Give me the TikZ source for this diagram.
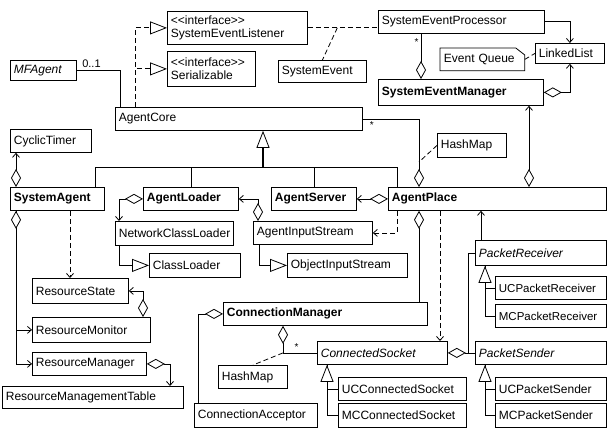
\documentclass[tikz,border=0pt]{standalone}
\usepackage{fontspec}
\setmainfont{Liberation Sans}
\usetikzlibrary{arrows.meta,calc}

\tikzset{
  cls/.style={draw, anchor=north west, inner xsep=3.5pt, inner ysep=0pt, align=left,
    font=\fontsize{12}{13.5}\selectfont},
  abs/.style={cls, font=\fontsize{12}{13.5}\selectfont\itshape},
  main/.style={cls, font=\fontsize{12}{13.5}\selectfont\bfseries},
  narrow/.style={cls, font=\fontsize{11.5}{13.5}\selectfont},
  note/.style={cls, draw=none},
  mult/.style={font=\fontsize{10}{10}\selectfont, inner sep=2pt},
  dep/.style={dash pattern=on 5pt off 3pt},
  agg/.tip={Diamond[fill=white,length=18pt,width=10pt,line width=0.8pt]},
  nv/.tip={Straight Barb[length=4pt,width=7pt]},
  inh/.tip={Triangle[fill=white,length=17pt,width=13pt,line width=0.8pt]},
}

\begin{document}
\begin{tikzpicture}[x=1pt, y=-1pt, line width=0.8pt]
    \useasboundingbox (0,0) rectangle (608,428);

    % Interfaces and system events
    \node[cls, text width=133pt, minimum height=33pt] (sel) at (167,11) {{<}{<}interface{>}{>}\\SystemEventListener};
    \node[cls, text width=81pt, minimum height=35pt] (ser) at (167,51) {{<}{<}interface{>}{>}\\Serializable};
    \node[abs, text width=59pt, minimum height=20pt] (mfagent) at (10,60) {MFAgent};
    \node[cls, text width=159pt, minimum height=23pt] (sep) at (378,10) {SystemEventProcessor};
    \node[cls, text width=81pt, minimum height=22pt] (sysevent) at (278,60) {SystemEvent};
    \node[cls, text width=62pt, minimum height=20pt] (linkedlist) at (535,43) {LinkedList};
    \node[note, text width=77pt, minimum height=22pt] (eventqueue) at (440,48) {Event Queue};
    \node[main, text width=158pt, minimum height=26pt] (sem) at (378,79) {SystemEventManager};

    % Agent core and its subclasses
    \node[cls, text width=240pt, minimum height=23pt] (agentcore) at (115,107) {AgentCore};
    \node[cls, text width=74pt, minimum height=23pt] (cyclictimer) at (10,129) {CyclicTimer};
    \node[cls, text width=62pt, minimum height=24pt] (hashmapap) at (437,133) {HashMap};
    \node[main, text width=87pt, minimum height=23pt] (systemagent) at (10,187) {SystemAgent};
    \node[main, text width=88pt, minimum height=23pt] (agentloader) at (143,187) {AgentLoader};
    \node[main, text width=78pt, minimum height=23pt] (agentserver) at (271,187) {AgentServer};
    \node[main, text width=211pt, minimum height=23pt] (agentplace) at (388,187) {AgentPlace};

    % Loaders and streams
    \node[cls, text width=111pt, minimum height=24pt] (networkclassloader) at (115,221) {NetworkClassLoader};
    \node[cls, text width=112pt, minimum height=23pt] (agentinputstream) at (253,221) {AgentInputStream};
    \node[cls, text width=84pt, minimum height=24pt] (classloader) at (149,253) {ClassLoader};
    \node[cls, text width=113pt, minimum height=24pt] (objectinputstream) at (287,253) {ObjectInputStream};

    % Resources
    \node[cls, text width=89pt, minimum height=25pt] (resourcestate) at (32,278) {ResourceState};
    \node[cls, text width=111pt, minimum height=25pt] (resourcemonitor) at (32,317) {ResourceMonitor};
    \node[cls, text width=107pt, minimum height=23pt] (resourcemanager) at (32,352) {ResourceManager};
    \node[cls, text width=174pt, minimum height=22pt] (rmtable) at (2,386) {ResourceManagementTable};

    % Connections and packets
    \node[abs, text width=124pt, minimum height=25pt] (packetreceiver) at (475,240) {PacketReceiver};
    \node[narrow, text width=104pt, minimum height=23pt] (ucpr) at (495,276) {UCPacketReceiver};
    \node[narrow, text width=104pt, minimum height=23pt] (mcpr) at (495,304) {MCPacketReceiver};
    \node[main, text width=197pt, minimum height=23pt] (connectionmanager) at (223,302) {ConnectionManager};
    \node[abs, text width=123pt, minimum height=23pt] (connectedsocket) at (317,341) {ConnectedSocket};
    \node[abs, text width=124pt, minimum height=23pt] (packetsender) at (475,341) {PacketSender};
    \node[cls, text width=62pt, minimum height=23pt] (hashmapcm) at (218,365) {HashMap};
    \node[cls, text width=121pt, minimum height=23pt] (uccs) at (338,377) {UCConnectedSocket};
    \node[cls, text width=104pt, minimum height=23pt] (ucps) at (495,377) {UCPacketSender};
    \node[cls, text width=116pt, minimum height=24pt] (connectionacceptor) at (194,403) {ConnectionAcceptor};
    \node[cls, text width=121pt, minimum height=24pt] (mccs) at (338,403) {MCConnectedSocket};
    \node[cls, text width=104pt, minimum height=24pt] (mcps) at (495,403) {MCPacketSender};

    % Note outline
    \draw (eventqueue.south west) -- (eventqueue.north west) -- ([xshift=-9pt]eventqueue.north east)
        -- ([yshift=-7pt]eventqueue.north east) -- (eventqueue.south east) -- cycle;
    \draw[dep] (eventqueue.east) -- (linkedlist.west);

    % Agent core links
    \draw (mfagent.east) -| ([xshift=5pt]agentcore.north west) node[mult, pos=0.17, above, font=\fontsize{11}{11}\selectfont] {0..1};
    \draw[dep, -inh] ([xshift=20pt]agentcore.north west) |- (sel.west);
    \draw[dep, -inh] ([xshift=20pt]agentcore.north west) |- (ser.west);

    % System events
    \draw[dep] (sel.east) -- (sel.east -| sep.west) coordinate[pos=0.42] (evt);
    \draw[dep] (evt) -- (sysevent.north);
    \draw[agg-] ([xshift=43pt]sem.north west) -- ([xshift=43pt]sep.south west) node[mult, pos=0.82, left] {*};
    \draw[-nv] (sep.east) -| (linkedlist.north);
    \draw[agg-nv] (sem.east) -| (linkedlist.south);

    % Inheritance tree under AgentCore
    \coordinate (bus) at ([xshift=148pt, yshift=-37pt]agentcore.south west);
    \draw[line width=1.6pt, -inh] (bus) -- ([xshift=148pt]agentcore.south west);
    \draw ([xshift=85pt]systemagent.north west) |- (bus) -| ([xshift=9pt]agentplace.north west);
    \coordinate (alup) at ([xshift=48pt]agentloader.north west);
    \draw (alup) -- (alup |- bus);
    \coordinate (asup) at ([xshift=43pt]agentserver.north west);
    \draw (asup) -- (asup |- bus);

    % AgentPlace upwards
    \draw[agg-] ([xshift=31pt]agentplace.north west) |- (agentcore.east) node[mult, pos=0.92, below] {*};
    \draw[dep] (hashmapap.west) -- ([xshift=31pt, yshift=25pt]agentplace.north west);
    \coordinate (apsem) at ([xshift=141pt]agentplace.north west);
    \draw[agg-nv] (apsem) -- (apsem |- sem.south);

    % SystemAgent
    \draw[agg-nv] ([xshift=6pt]systemagent.north west) -- ([xshift=6pt]cyclictimer.south west);
    \draw[-nv] ([xshift=6pt]systemagent.south west) |- (resourcemanager.west);
    \draw[agg-nv] ([xshift=6pt]systemagent.south west) |- (resourcemonitor.west);
    \coordinate (sares) at ([xshift=60pt]systemagent.south west);
    \draw[dep, -nv] (sares) -- (sares |- resourcestate.north);
    \draw[agg-nv] ([xshift=111pt]resourcemonitor.north west) |- (resourcestate.east);
    \draw[agg-nv] (resourcemanager.east) -| ([xshift=168pt]rmtable.north west);

    % Loaders
    \draw[agg-nv] (agentloader.west) -| ([xshift=4pt]networkclassloader.north west);
    \draw[-inh] ([xshift=4pt]networkclassloader.south west) |- (classloader.west);
    \draw[agg-nv] ([xshift=5pt]agentinputstream.north west) |- (agentloader.east);
    \draw[-inh] ([xshift=6pt]agentinputstream.south west) |- (objectinputstream.west);
    \draw[agg-nv] (agentplace.west) -- (agentserver.east);
    \draw[dep, -nv] ([xshift=9pt]agentplace.south west) |- (agentinputstream.east);

    % AgentPlace downwards
    \coordinate (apcm) at ([xshift=31pt]agentplace.south west);
    \draw[agg-] (apcm) -- (apcm |- connectionmanager.north);
    \coordinate (apcs) at ([xshift=52pt]agentplace.south west);
    \draw[dep, -nv] (apcs) -- (apcs |- connectedsocket.north);
    \coordinate (prap) at ([xshift=6pt]packetreceiver.north west);
    \draw[-nv] (prap) -- (prap |- agentplace.south);

    % ConnectionManager
    \draw[agg-] (connectionmanager.west) -| ([xshift=4pt]connectionacceptor.north west);
    \coordinate (cmdn) at ([xshift=60pt]connectionmanager.south west);
    \coordinate (cmcs) at (cmdn |- connectedsocket.west);
    \draw[agg-] (cmdn) |- (connectedsocket.west) node[mult, pos=0.7, above] {*};
    \draw[dep] (cmcs) -- ([xshift=35pt]hashmapcm.north west);

    % ConnectedSocket and packets
    \draw ([xshift=-7pt]packetsender.west) |- (packetreceiver.west);
    \draw[agg-] (connectedsocket.east) -- (packetsender.west);

    \coordinate (csgen) at ([xshift=10pt]connectedsocket.south west);
    \draw (mccs.west) -| (csgen);
    \draw[-inh] (uccs.west) -| (csgen);
    \coordinate (prgen) at ([xshift=10pt]packetreceiver.south west);
    \draw (mcpr.west) -| (prgen);
    \draw[-inh] (ucpr.west) -| (prgen);
    \coordinate (psgen) at ([xshift=10pt]packetsender.south west);
    \draw (mcps.west) -| (psgen);
    \draw[-inh] (ucps.west) -| (psgen);
\end{tikzpicture}
\end{document}
